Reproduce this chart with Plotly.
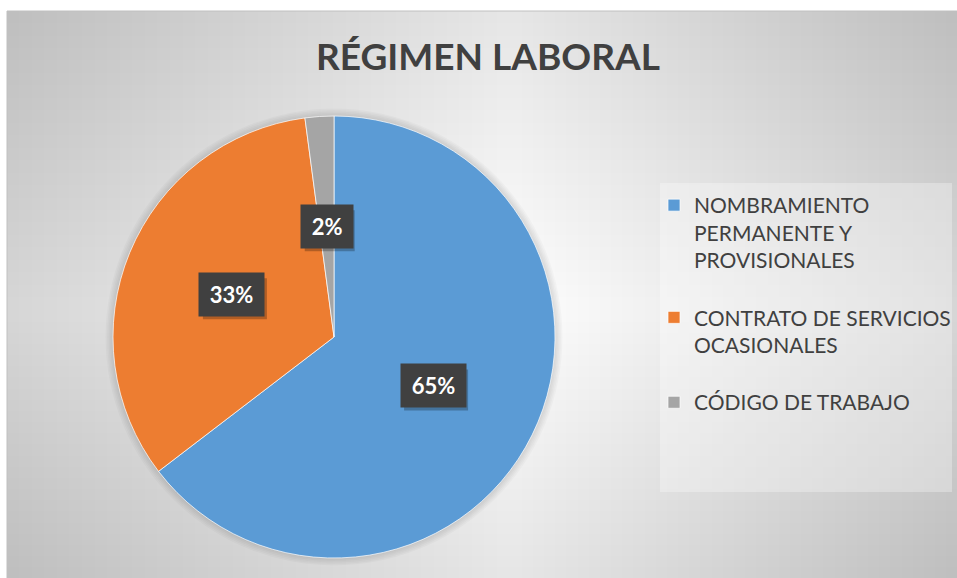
import numpy as np
import plotly.graph_objects as go

# ---------------- data ----------------
title_text = "RÉGIMEN LABORAL"
categories = [
    "NOMBRAMIENTO<br>PERMANENTE Y<br>PROVISIONALES",
    "CONTRATO DE SERVICIOS<br>OCASIONALES",
    "CÓDIGO DE TRABAJO",
]
values = [64.6, 33.3, 2.1]
colors = ["#5B9BD5", "#ED7D31", "#A5A5A5"]

# legend spacing (blank lines appended after each entry)
legend_pad_lines = [1, 1, 0]
legend_labels = [c + "<br>\u00a0" * n for c, n in zip(categories, legend_pad_lines)]

# ---------------- layout geometry (screen pixels) ----------------
SW, SH = 957, 578             # figure size
CX, CY, R = 334, 337, 221     # pie centre / radius
AREA_L, AREA_T = 7, 11        # chart area top-left corner

def px(x):
    return x / SW

def py(y):
    return 1 - y / SH

fig = go.Figure()
fig.add_trace(go.Pie(
    labels=legend_labels,
    values=values,
    sort=False,
    direction="clockwise",
    rotation=0,
    textinfo="none",
    hoverinfo="percent",
    marker=dict(colors=colors, line=dict(color="rgba(255,255,255,0.7)", width=1)),
    domain=dict(x=[px(CX - R), px(CX + R)], y=[py(CY + R), py(CY - R)]),
))

# ---------------- background gradient (nested translucent rects) ----------------
shapes = []
x0a, y0a = px(AREA_L), py(AREA_T)
shapes.append(dict(type="rect", xref="paper", yref="paper",
                   x0=x0a, x1=1.01, y0=-0.01, y1=y0a,
                   fillcolor="white", line=dict(width=0), layer="below"))
XC, YC = 510, 310
def layers(total_drop, n):
    return 1 - (1 - total_drop / 255) ** (1.0 / n)

N = 40
a_x = layers(46, N)
for k in range(1, N + 1):
    xk = AREA_L + (XC - AREA_L) * (k / N)
    shapes.append(dict(type="rect", xref="paper", yref="paper",
                       x0=x0a, x1=px(xk), y0=-0.01, y1=y0a,
                       fillcolor=f"rgba(0,0,0,{a_x:.5f})", line=dict(width=0), layer="below"))
    xk2 = SW - (SW - XC) * (k / N)
    shapes.append(dict(type="rect", xref="paper", yref="paper",
                       x0=px(xk2), x1=1.01, y0=-0.01, y1=y0a,
                       fillcolor=f"rgba(0,0,0,{a_x:.5f})", line=dict(width=0), layer="below"))
NV = 24
a_y = layers(17, NV)
for k in range(1, NV + 1):
    yk = AREA_T + (YC - AREA_T) * (k / NV)
    shapes.append(dict(type="rect", xref="paper", yref="paper",
                       x0=x0a, x1=1.01, y0=py(yk), y1=y0a,
                       fillcolor=f"rgba(0,0,0,{a_y:.5f})", line=dict(width=0), layer="below"))
    yk2 = SH - (SH - YC) * (k / NV)
    shapes.append(dict(type="rect", xref="paper", yref="paper",
                       x0=x0a, x1=1.01, y0=-0.01, y1=py(yk2),
                       fillcolor=f"rgba(0,0,0,{a_y:.5f})", line=dict(width=0), layer="below"))
# chart border
shapes.append(dict(type="rect", xref="paper", yref="paper",
                   x0=x0a, x1=1.01, y0=-0.01, y1=y0a,
                   fillcolor="rgba(0,0,0,0)", line=dict(width=1, color="#c0c0c0"), layer="below"))
# soft shadow around pie
for k in range(1, 6):
    r = R + k * 1.5
    shapes.append(dict(type="circle", xref="paper", yref="paper",
                       x0=px(CX - r), x1=px(CX + r), y0=py(CY + r), y1=py(CY - r),
                       fillcolor="rgba(0,0,0,0.025)", line=dict(width=0), layer="below"))
# legend box
shapes.append(dict(type="rect", xref="paper", yref="paper",
                   x0=px(660), x1=px(952), y0=py(492), y1=py(183),
                   fillcolor="rgba(255,255,255,0.3)", line=dict(width=0), layer="below"))

# ---------------- data labels (annotations) ----------------
vals = np.array(values, dtype=float)
frac = vals / vals.sum()
mid = (np.cumsum(frac) - frac / 2) * 2 * np.pi
annotations = []
for f, th in zip(frac, mid):
    lx = CX + 0.5 * R * np.sin(th)
    ly = CY - 0.5 * R * np.cos(th)
    label = f"{round(f * 100)}%"
    # drop shadow of the label box
    bw, bh = 14 * len(label) + 22, 41
    shapes.append(dict(type="rect", xref="paper", yref="paper",
                       x0=px(lx - bw / 2 + 3), x1=px(lx + bw / 2 + 3),
                       y0=py(ly + bh / 2 + 4), y1=py(ly - bh / 2 + 4),
                       fillcolor="rgba(0,0,0,0.25)", line=dict(width=0), layer="above"))
    annotations.append(dict(xref="paper", yref="paper", x=px(lx), y=py(ly),
                            showarrow=False, text=f"\u2009{label}\u2009", borderpad=8,
                            xanchor="center", yanchor="middle", bgcolor="#404040",
                            font=dict(family="Lato", size=22, color="white", weight="bold")))

fig.update_layout(
    width=SW, height=SH,
    margin=dict(l=0, r=0, t=0, b=0),
    paper_bgcolor="white",
    plot_bgcolor="rgba(0,0,0,0)",
    title=dict(text=f"<b>{title_text}</b>", x=px(488), xanchor="center",
               y=py(57), yanchor="middle",
               font=dict(family="Lato", size=37, color="#404040")),
    showlegend=True,
    legend=dict(x=px(654), xanchor="left", y=py(185), yanchor="top",
                valign="top", bgcolor="rgba(0,0,0,0)",
                font=dict(family="Lato", size=21, color="#404040"),
                itemclick=False),
    shapes=shapes,
    annotations=annotations,
)

fig.write_html(
    "out.html",
    config={"displayModeBar": False},
    post_script="document.body.style.margin='0px';document.body.style.overflow='hidden';",
)
